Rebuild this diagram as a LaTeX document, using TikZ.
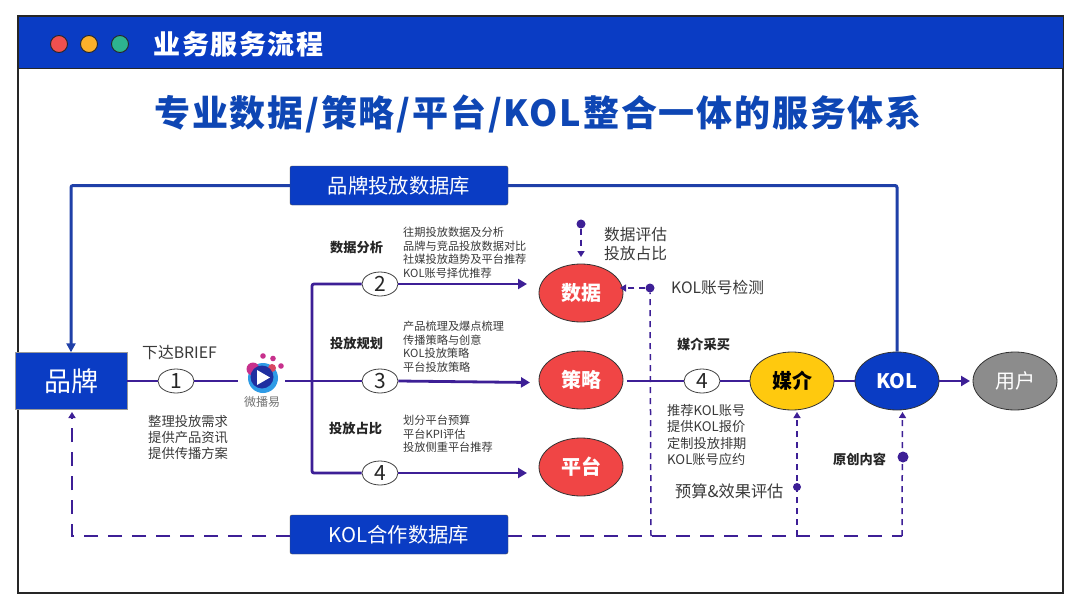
\documentclass[tikz,border=0pt]{standalone}
\usepackage{fontspec}
\usetikzlibrary{arrows.meta,shapes.geometric,calc}
\setmainfont{Noto Sans CJK SC}
\definecolor{hblue}{HTML}{0A3CC4}
\definecolor{lineblue}{HTML}{1F40A8}
\definecolor{pur}{HTML}{3D1F96}
\definecolor{redn}{HTML}{F04545}
\definecolor{yel}{HTML}{FFC90E}
\definecolor{gry}{HTML}{8C8C8C}
\definecolor{txt}{HTML}{3A3A3A}
\definecolor{ttl}{HTML}{0E46B4}
\definecolor{lred}{HTML}{F0504F}
\definecolor{lorg}{HTML}{FBB02B}
\definecolor{lgrn}{HTML}{2DB38F}
\definecolor{lmag}{HTML}{C7308C}
\definecolor{lcya}{HTML}{2E9BE6}
\definecolor{ldrk}{HTML}{1F2FA0}
\tikzset{
 x=1pt,y=-1pt,
 dbbox/.style={draw=black!70,fill=hblue,rounded corners=2pt,minimum width=218pt,minimum height=39pt,inner sep=0pt,text=white,font=\fontsize{20.3}{20}\selectfont},
 oval/.style={ellipse,draw=black!80,line width=.8pt,minimum width=84pt,minimum height=58pt,inner sep=0pt,text=white,font=\fontsize{20}{20}\selectfont\bfseries},
 numb/.style={ellipse,draw=black!75,fill=white,line width=.8pt,minimum width=36pt,minimum height=24pt,inner sep=0pt,text=black!85,font=\fontsize{21}{21}\selectfont},
 mainline/.style={draw=pur,line width=2.8pt},
 mainarrow/.style={mainline,-{Triangle[length=9pt,width=10pt]}},
 blueline/.style={draw=lineblue,line width=3pt,rounded corners=2pt},
 dash2/.style={draw=pur,line width=2.8pt,dash pattern=on 14pt off 10pt},
 dash1/.style={draw=pur,line width=1.5pt,dash pattern=on 6pt off 5pt},
 darr/.style={-{Triangle[length=6pt,width=7pt]}},
 dot/.style={circle,fill=pur,minimum size=9pt,inner sep=0pt},
 head/.style={font=\fontsize{13.2}{13.2}\selectfont\bfseries,text=black!85,inner sep=0pt},
 desc/.style={align=left,text=txt,inner sep=0pt,font=\fontsize{11.2}{13.5}\selectfont},
 note/.style={align=left,text=txt,inner sep=0pt,font=\fontsize{15.8}{16}\selectfont},
 light/.style={circle,draw=black!85,line width=.9pt,minimum size=17pt,inner sep=0pt},
}
\begin{document}
\begin{tikzpicture}
\useasboundingbox (0,0) rectangle (1080,608);
\fill[white] (0,0) rectangle (1080,608);
% frame and header
\node[draw=black!85,line width=1.3pt,minimum width=1045pt,minimum height=577pt,inner sep=0pt] (frame) at (540.5,304.5) {};
\node[draw=black!85,fill=hblue,line width=1pt,minimum width=1045pt,minimum height=52pt,inner sep=0pt] (header) at (540.5,42) {};
\node[light,fill=lred] (l1) at (59,44) {};
\node[light,fill=lorg] (l2) at (89,44) {};
\node[light,fill=lgrn] (l3) at (120,44) {};
\node[text=white,font=\fontsize{27}{27}\selectfont\bfseries\addfontfeature{LetterSpace=5.5},inner sep=0pt] (hd) at (238.5,44) {业务服务流程};
\node[text=ttl,font=\fontsize{36}{36}\selectfont\bfseries\addfontfeature{LetterSpace=5},inner sep=0pt] (tt) at (538,114) {专业数据/策略/平台/KOL整合一体的服务体系};
% database boxes
\node[dbbox] (db1) at (399,185.5) {品牌投放数据库};
\node[dbbox] (db2) at (399,534.5) {KOL合作数据库};
% main nodes
\node[draw=black!40,fill=hblue,minimum width=112pt,minimum height=57pt,inner sep=0pt,text=white,font=\fontsize{27}{27}\selectfont] (brand) at (71,381) {品牌};
\node[oval,fill=redn] (data) at (581,293) {数据};
\node[oval,fill=redn] (strat) at (581,380) {策略};
\node[oval,fill=redn] (plat) at (581,467) {平台};
\node[oval,fill=yel,text=black] (media) at (792,381) {媒介};
\node[oval,fill=hblue] (kol) at (897,381) {KOL};
\node[oval,fill=gry,font=\fontsize{20}{20}\selectfont] (user) at (1015,381) {用户};
% logo
\node[minimum size=44pt,inner sep=0pt] (logo) at (262,372) {};
\fill[lcya] (263,378) circle (15pt);
\fill[lmag] (253,369) circle (6.5pt);
\fill[lmag!70!orange] (272,368) circle (4pt);
\fill[ldrk] (262,377) circle (11.5pt);
\fill[white] (257,370) -- (270,377.5) -- (257,385) -- cycle;
\fill[lmag] (263,356) circle (2.8pt);
\fill[lmag] (273,358.5) circle (2.8pt);
\fill[lmag] (281,366) circle (2.8pt);
\node[text=black!55,inner sep=0pt,font=\fontsize{12}{12}\selectfont] (logotxt) at (262,402) {微播易};
% coordinates
\coordinate (logoL) at (238,381);
\coordinate (logoR) at (285,381);
\coordinate (tr) at (312,381);
\coordinate (a2) at (527,284);
\coordinate (a3) at (530,382.5);
\coordinate (a4) at (527,473);
\coordinate (sR) at (627,381);
\coordinate (uT) at (970,381);
\coordinate (brandBelow) at (72,412);
\coordinate (bL) at (290,536);
\coordinate (bR) at (508,536);
\coordinate (v1) at (651,536);
\coordinate (v2) at (797,536);
\coordinate (v3) at (902,536);
\coordinate (m1) at (797,412);
\coordinate (k1) at (902.5,412);
\coordinate (dA) at (620,288);
\coordinate (dB) at (581,257);
% number ovals
\node[numb] (n1) at (176,381) {1};
\node[numb] (n2) at (380,284) {2};
\node[numb] (n3) at (380,381) {3};
\node[numb] (n4) at (380,473) {4};
\node[numb] (n5) at (702,381) {4};
% main lines
\draw[mainline] (brand.east) -- (n1.west);
\draw[mainline] (n1.east) -- (logoL);
\draw[mainline] (logoR) -- (n3.west);
\draw[mainline,rounded corners=2pt] (n2.west) -| (tr) |- (n4.west);
\draw[mainarrow] (n2.east) -- (a2);
\draw[mainarrow] (n3.east) -- (a3);
\draw[mainarrow] (n4.east) -- (a4);
\draw[mainline] (sR) -- (n5.west);
\draw[mainline] (n5.east) -- (media.west);
\draw[mainline] (media.east) -- (kol.west);
\draw[mainarrow] (kol.east) -- (uT);
% blue feedback
\draw[blueline,-{Triangle[length=9pt,width=9pt]}] (db1.west) -| (brand.north);
\draw[blueline] (db1.east) -| (kol.north);
% dashed bottom
\draw[dash2,darr] (bL) -| (brandBelow);
\draw[dash2] (bR) -- (v3);
\node[dot] (d1) at (650,288) {};
\node[dot] (d2) at (581,224) {};
\node[dot,minimum size=8pt] (d3) at (797,487) {};
\node[dot,minimum size=11pt] (d4) at (903,457) {};
\draw[dash1] (v1) -- (d1);
\draw[dash1,darr] (d1) -- (dA);
\draw[dash1,darr] (d2) -- (dB);
\draw[dash1,darr] (v2) -- (m1);
\draw[dash1,darr] (v3) -- (k1);
% texts
\node[head,anchor=west] (h1) at (330,248) {数据分析};
\node[head,anchor=west] (h2) at (330,343) {投放规划};
\node[head,anchor=west] (h3) at (329,428) {投放占比};
\node[head,anchor=west] (h4) at (677,344) {媒介采买};
\node[head,anchor=west] (h5) at (833,459) {原创内容};
\node[desc,anchor=north west] (t2) at (403,227) {往期投放数据及分析\\品牌与竞品投放数据对比\\社媒投放趋势及平台推荐\\KOL账号择优推荐};
\node[desc,anchor=north west] (t3) at (403,321) {产品梳理及爆点梳理\\传播策略与创意\\KOL投放策略\\平台投放策略};
\node[desc,anchor=north west] (t4) at (403,415) {划分平台预算\\平台KPI评估\\投放侧重平台推荐};
\node[note,anchor=west] (t5) at (142,353) {下达BRIEF};
\node[align=left,text=txt,inner sep=0pt,font=\fontsize{13.3}{16}\selectfont,anchor=north west] (t1) at (148,415) {整理投放需求\\提供产品资讯\\提供传播方案};
\node[align=left,text=txt,inner sep=0pt,font=\fontsize{15.7}{19}\selectfont,anchor=north west] (t6) at (604,227) {数据评估\\投放占比};
\node[note,anchor=west,font=\fontsize{15.7}{16}\selectfont] (t7) at (671,288) {KOL账号检测};
\node[align=left,text=txt,inner sep=0pt,font=\fontsize{13.2}{16.4}\selectfont,anchor=north west] (t8) at (667,404) {推荐KOL账号\\提供KOL报价\\定制投放排期\\KOL账号应约};
\node[note,anchor=west,font=\fontsize{16.2}{16}\selectfont] (t9) at (675,491) {预算\&效果评估};
\end{tikzpicture}
\end{document}
